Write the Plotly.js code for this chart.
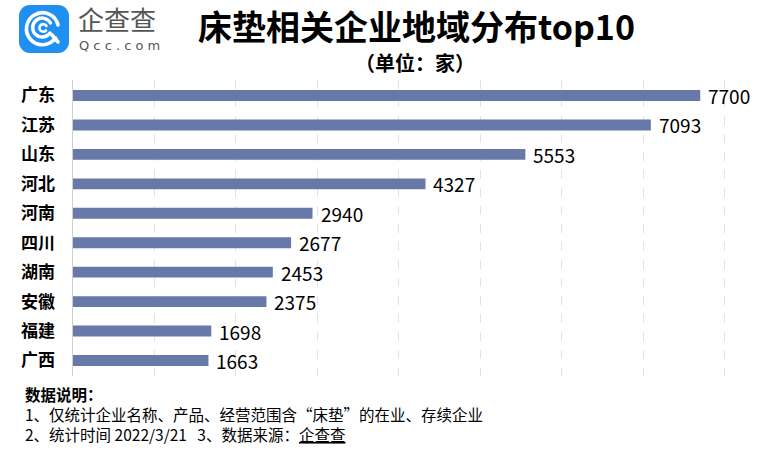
<!DOCTYPE html>
<html>
<head>
<meta charset="utf-8">
<script src="https://cdn.plot.ly/plotly-3.0.1.min.js"></script>
<style>
html,body{margin:0;padding:0;background:#fff;}
#chart{width:776px;height:452px;}
</style>
</head>
<body>
<div id="chart"></div>
<script>
const provinces = ["广东","江苏","山东","河北","河南","四川","湖南","安徽","福建","广西"];
const counts = [7700,7093,5553,4327,2940,2677,2453,2375,1698,1663];
const titleText = "床垫相关企业地域分布top10";
const unitText = "（单位：家）";
const noteLines = ["<b>数据说明：</b>","1、仅统计企业名称、产品、经营范围含“床垫”的在业、存续企业","2、统计时间 2022/3/21   3、数据来源：<u>企查查</u>"];

const W = 776, H = 452;
const M = {l:73, r:35, t:80, b:76};
const PW = W - M.l - M.r, PH = H - M.t - M.b;
const px = x => (x - M.l) / PW;
const py = y => (H - M.b - y) / PH;

const FONT = "Noto Sans CJK SC, Noto Sans, sans-serif";

const logoSvg = '<svg xmlns="http://www.w3.org/2000/svg" width="50" height="48" viewBox="0 0 50 48">' +
  '<rect x="0" y="0" width="50" height="48" rx="11" ry="11" fill="#1f8ff2"/>' +
  '<path d="M36.5 33 A16 16 0 1 1 39 20" fill="none" stroke="#fff" stroke-width="3.6" stroke-linecap="round"/>' +
  '<path d="M33 30 L39 37" stroke="#fff" stroke-width="3.6" stroke-linecap="round"/>' +
  '<path d="M31 28 A9.5 9.5 0 1 1 31.5 18" fill="none" stroke="#fff" stroke-width="3.4" stroke-linecap="round"/>' +
  '<path d="M27 25.5 A3.8 3.8 0 1 1 27.5 21" fill="none" stroke="#fff" stroke-width="2.6" stroke-linecap="round"/>' +
  '</svg>';
const logoSrc = 'data:image/svg+xml;base64,' + btoa(logoSvg);

const annotations = [];
provinces.forEach((p, i) => {
  annotations.push({
    x: counts[i], y: p, xref: 'x', yref: 'y',
    text: String(counts[i]), showarrow: false,
    xanchor: 'left', xshift: 6, yshift: 0,
    font: {family: FONT, size: 19, color: '#000'}
  });
});
annotations.push({
  xref:'paper', yref:'paper', x: px(417), y: py(25), xanchor:'center', yanchor:'middle',
  text: '<b>' + titleText + '</b>', showarrow:false,
  font:{family: FONT, size: 34, color:'#000'}
});
annotations.push({
  xref:'paper', yref:'paper', x: px(415), y: py(62), xanchor:'center', yanchor:'middle',
  text: '<b>' + unitText + '</b>', showarrow:false,
  font:{family: FONT, size: 20, color:'#000'}
});
annotations.push({
  xref:'paper', yref:'paper', x: px(76), y: py(18), xanchor:'left', yanchor:'middle',
  text: '企查查', showarrow:false,
  font:{family: FONT, size: 26, color:'#555'}
});
annotations.push({
  xref:'paper', yref:'paper', x: px(77), y: py(46), xanchor:'left', yanchor:'middle',
  text: 'Q c c . c o m', showarrow:false,
  font:{family: 'DejaVu Sans, sans-serif', size: 13, color:'#555'}
});
const noteY = [394, 414, 434];
noteLines.forEach((t, i) => {
  annotations.push({
    xref:'paper', yref:'paper', x: px(23), y: py(noteY[i]), xanchor:'left', yanchor:'middle',
    text: t, showarrow:false,
    font:{family: FONT, size: 15.5, color:'#000'}
  });
});

const trace = {
  type: 'bar', orientation: 'h',
  x: counts, y: provinces,
  marker: {color: '#6779a9'},
  hoverinfo: 'none'
};

const layout = {
  width: W, height: H,
  margin: M,
  paper_bgcolor: '#fff', plot_bgcolor: '#fff',
  showlegend: false,
  bargap: 0.63,
  xaxis: {
    range: [0, 8200], dtick: 1000, tick0: 0,
    showgrid: true, gridcolor: '#e2e2e2', griddash: 'dash', gridwidth: 1,
    showticklabels: false, zeroline: false, showline: false, ticks: ''
  },
  yaxis: {
    autorange: 'reversed', type: 'category',
    showline: true, linecolor: '#cfcfcf', linewidth: 1.5,
    showgrid: false, ticks: '', ticklabelstandoff: 13,
    tickfont: {family: FONT, size: 17, color: '#000', weight: 'bold'}
  },
  annotations: annotations,
  images: [{
    source: logoSrc, xref:'paper', yref:'paper',
    x: px(19), y: py(5), sizex: 50/PW, sizey: 48/PH,
    xanchor:'left', yanchor:'top', sizing:'stretch', layer:'above'
  }]
};

Plotly.newPlot('chart', [trace], layout, {displayModeBar:false, staticPlot:true});
</script>
</body>
</html>
